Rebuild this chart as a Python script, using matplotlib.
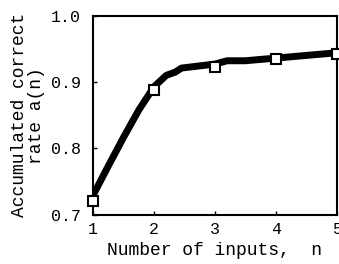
import matplotlib
matplotlib.use("Agg")
import matplotlib.pyplot as plt

# curve (thick line)
line_n = [1.0, 1.25, 1.5, 1.75, 2.0, 2.2, 2.35, 2.45, 3.0, 3.2, 3.5, 4.0, 5.0]
line_a = [0.730, 0.774, 0.817, 0.858, 0.893, 0.910, 0.915, 0.921, 0.927, 0.932, 0.932, 0.936, 0.944]
# square markers
mark_n = [1, 2, 3, 4, 5]
mark_a = [0.721, 0.888, 0.923, 0.934, 0.942]

xticks = [1, 2, 3, 4, 5]
yticks = [0.7, 0.8, 0.9, 1.0]
ytick_labels = ["0.7", "0.8", "0.9", "1.0"]

plt.rcParams['font.family'] = ['Liberation Mono', 'DejaVu Sans Mono']

fig = plt.figure(figsize=(3.39, 2.64), dpi=100)
ax = fig.add_axes([0.275, 0.186, 0.718, 0.755])
ax.plot(line_n, line_a, color='black', lw=5, solid_capstyle='butt', zorder=2)
ax.plot(mark_n, mark_a, ls='none', marker='s', ms=7, mfc='white', mec='black', mew=1.5, zorder=3, clip_on=False)

ax.set_xlim(1, 5)
ax.set_ylim(0.7, 1.0)
ax.set_xticks(xticks)
ax.set_yticks(yticks)
ax.set_yticklabels(ytick_labels)
ax.tick_params(direction='in', length=3, width=1, labelsize=12)
ax.tick_params(axis='x', pad=5)
ax.tick_params(axis='y', pad=9)
for s in ax.spines.values():
    s.set_linewidth(1.5)
ax.set_xlabel("Number of inputs,  n", fontsize=13, labelpad=4)
ax.set_ylabel("Accumulated correct\nrate a(n)", fontsize=13, labelpad=4, linespacing=1.05)

fig.savefig("out.png", dpi=100)
